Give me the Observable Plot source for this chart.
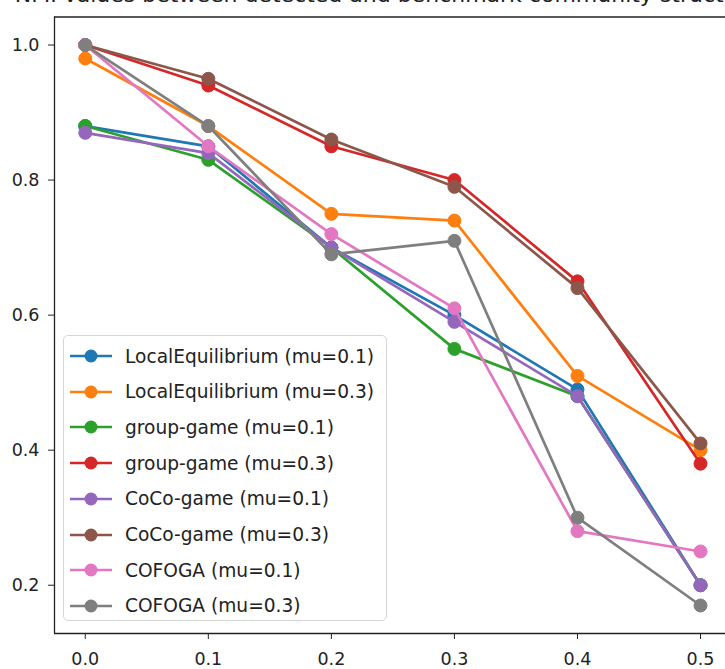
<!DOCTYPE html>
<html>
<head>
<meta charset="utf-8">
<script src="https://cdn.jsdelivr.net/npm/d3@7"></script>
<script src="https://cdn.jsdelivr.net/npm/@observablehq/plot@0.6"></script>
<style>
  html, body { margin: 0; padding: 0; background: #fff; }
  #wrap { position: relative; width: 725px; height: 669px; overflow: hidden; background: #fff; font-family: "DejaVu Sans", sans-serif; }
  #title { position: absolute; left: 393px; top: -16px; transform: translateX(-50%); white-space: nowrap; font-size: 22px; line-height: 22px; color: #222; }
  #chart { position: absolute; left: 0; top: 0; }
  #legend { position: absolute; left: 63px; top: 335px; width: 324px; height: 286px; box-sizing: border-box; border: 1px solid #d6d6d6; border-radius: 5px; background: rgba(255,255,255,0.85); }
  .lrow { position: absolute; left: 0; height: 30px; display: flex; align-items: center; font-size: 18.6px; color: #222; white-space: nowrap; }
  .lrow svg { margin-left: 6px; margin-right: 13px; }
</style>
</head>
<body>
<div id="wrap">
  <div id="title">NMI values between detected and benchmark community structures</div>
  <div id="chart"></div>
  <div id="legend"></div>
</div>
<script>
// ---- data ----
const muValues = [0.0, 0.1, 0.2, 0.3, 0.4, 0.5];
const xTicks = [0.0, 0.1, 0.2, 0.3, 0.4, 0.5];
const yTicks = [0.2, 0.4, 0.6, 0.8, 1.0];

const seriesNames = [
  "LocalEquilibrium (mu=0.1)",
  "LocalEquilibrium (mu=0.3)",
  "group-game (mu=0.1)",
  "group-game (mu=0.3)",
  "CoCo-game (mu=0.1)",
  "CoCo-game (mu=0.3)",
  "COFOGA (mu=0.1)",
  "COFOGA (mu=0.3)"
];
const seriesColors = ["#1f77b4", "#ff7f0e", "#2ca02c", "#d62728", "#9467bd", "#8c564b", "#e377c2", "#7f7f7f"];

const localEq01  = [0.88, 0.85, 0.70, 0.60, 0.49, 0.20];
const localEq03  = [0.98, 0.88, 0.75, 0.74, 0.51, 0.40];
const groupGame01 = [0.88, 0.83, 0.70, 0.55, 0.48, 0.20];
const groupGame03 = [1.00, 0.94, 0.85, 0.80, 0.65, 0.38];
const coco01     = [0.87, 0.84, 0.70, 0.59, 0.48, 0.20];
const coco03     = [1.00, 0.95, 0.86, 0.79, 0.64, 0.41];
const cofoga01   = [1.00, 0.85, 0.72, 0.61, 0.28, 0.25];
const cofoga03   = [1.00, 0.88, 0.69, 0.71, 0.30, 0.17];

const seriesValues = [localEq01, localEq03, groupGame01, groupGame03, coco01, coco03, cofoga01, cofoga03];

const xDomain = [-0.025, 0.5203];
const yDomain = [0.1285, 1.0415];

// ---- marks ----
const seriesMarks = [];
seriesValues.forEach((vals, i) => {
  const rows = vals.map((v, j) => ({x: muValues[j], y: v}));
  seriesMarks.push(Plot.line(rows, {x: "x", y: "y", stroke: seriesColors[i], strokeWidth: 2.7}));
  seriesMarks.push(Plot.dot(rows, {x: "x", y: "y", r: 6.5, fill: seriesColors[i], stroke: seriesColors[i], strokeWidth: 1}));
});

const chart = Plot.plot({
  width: 725,
  height: 669,
  marginLeft: 54,
  marginRight: 0,
  marginTop: 16.5,
  marginBottom: 36,
  style: {fontFamily: "DejaVu Sans, sans-serif", fontSize: "17.5px", color: "#222", background: "transparent"},
  x: {domain: xDomain},
  y: {domain: yDomain},
  marks: [
    Plot.ruleX([xDomain[0]], {stroke: "#222", strokeWidth: 1.3}),
    Plot.ruleY(yDomain, {stroke: "#222", strokeWidth: 1.3}),
    ...seriesMarks,
    Plot.axisX({ticks: xTicks, tickFormat: d3.format(".1f"), tickSize: 6, tickPadding: 13, label: null, fontSize: 17.5}),
    Plot.axisY({ticks: yTicks, tickFormat: d3.format(".1f"), tickSize: 6, tickPadding: 9, label: null, fontSize: 17.5})
  ]
});
document.getElementById("chart").appendChild(chart);

// ---- legend ----
const legend = document.getElementById("legend");
seriesNames.forEach((name, i) => {
  const row = document.createElement("div");
  row.className = "lrow";
  row.style.top = (5 + i * 35.7) + "px";
  const sw = `<svg width="42" height="16" viewBox="0 0 42 16"><line x1="0" y1="8" x2="42" y2="8" stroke="${seriesColors[i]}" stroke-width="2.7"/><circle cx="21" cy="8" r="6.5" fill="${seriesColors[i]}"/></svg>`;
  row.innerHTML = sw + `<span>${name}</span>`;
  legend.appendChild(row);
});
</script>
</body>
</html>
